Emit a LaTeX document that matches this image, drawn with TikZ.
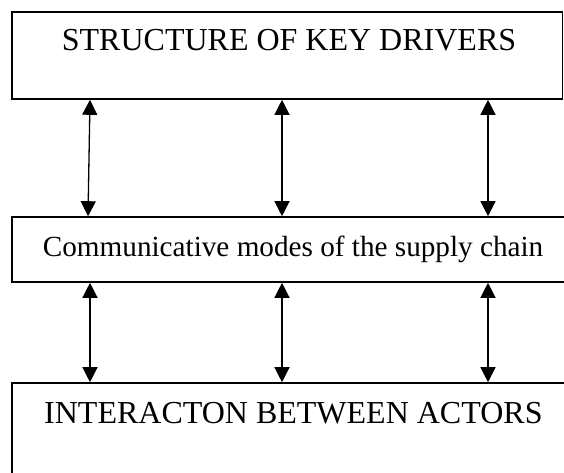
\documentclass[tikz,border=0pt]{standalone}
\usepackage{fontspec}
\setmainfont{Liberation Serif}
\usetikzlibrary{arrows.meta}

\tikzset{
  box/.style={draw,line width=1.6pt,rectangle,inner sep=0pt},
  boxtext/.style={font=\fontsize{32}{34}\selectfont,anchor=base west,inner sep=0pt},
  biarrow/.style={line width=1.3pt,{Triangle[length=15pt,width=15pt]}-{Triangle[length=15pt,width=15pt]}}
}

\begin{document}
\begin{tikzpicture}[x=1pt,y=-1pt]
				\useasboundingbox (0,0) rectangle (564,472);
				\clip (0,0) rectangle (564,472);
				% the three boxes
				\node[box,minimum width=550.5pt,minimum height=87pt] (drivers) at (287.25,55.5) {};
				\node[box,minimum width=560pt,minimum height=65pt] (modes) at (292,249.5) {};
				\node[box,minimum width=560pt,minimum height=140pt] (actors) at (292,453) {};
				\node[boxtext] (driverstxt) at (61.7,50.5) {STRUCTURE OF KEY DRIVERS};
				\node[boxtext,font=\fontsize{29.2}{32}\selectfont] (modestxt) at (42.7,256) {Communicative modes of the supply chain};
				\node[boxtext] (actorstxt) at (44,423) {INTERACTON BETWEEN ACTORS};
				% columns of the arrows
				\coordinate (colA) at (90,0);
				\coordinate (colA') at (88,0);
				\coordinate (colB) at (282,0);
				\coordinate (colC) at (488,0);
				\draw[biarrow] (drivers.south -| colA) -- (modes.north -| colA');
				\draw[biarrow] (drivers.south -| colB) -- (modes.north -| colB);
				\draw[biarrow] (drivers.south -| colC) -- (modes.north -| colC);
				\draw[biarrow] (modes.south -| colA) -- (actors.north -| colA);
				\draw[biarrow] (modes.south -| colB) -- (actors.north -| colB);
				\draw[biarrow] (modes.south -| colC) -- (actors.north -| colC);
			\end{tikzpicture}
\end{document}
